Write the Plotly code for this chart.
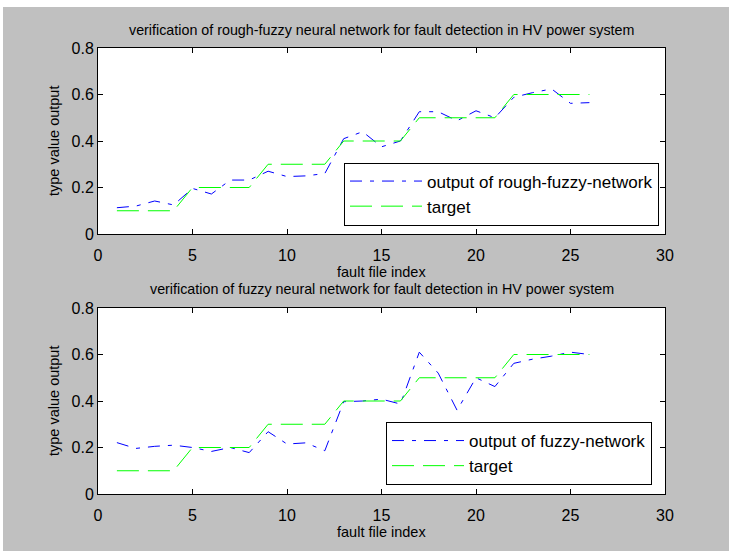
import plotly.graph_objects as go

# ---------------- data ----------------
file_index = list(range(1, 27))
target = [0.1, 0.1, 0.1, 0.1, 0.2, 0.2, 0.2, 0.2, 0.3, 0.3, 0.3, 0.3,
          0.4, 0.4, 0.4, 0.4, 0.5, 0.5, 0.5, 0.5, 0.5, 0.6, 0.6, 0.6, 0.6, 0.6]
rough_fuzzy_output = [0.113, 0.12, 0.142, 0.125, 0.196, 0.172, 0.232, 0.232, 0.27, 0.247,
                      0.25, 0.26, 0.41, 0.44, 0.375, 0.40, 0.526, 0.526, 0.487, 0.53,
                      0.5, 0.588, 0.608, 0.624, 0.562, 0.565]
fuzzy_output = [0.221, 0.196, 0.205, 0.21, 0.2, 0.183, 0.2, 0.178, 0.268, 0.215,
                0.22, 0.186, 0.397, 0.4, 0.408, 0.387, 0.61, 0.52, 0.36, 0.5,
                0.462, 0.562, 0.58, 0.593, 0.61, 0.6]
x_ticks = [0, 5, 10, 15, 20, 25, 30]
y_ticks = [0, 0.2, 0.4, 0.6, 0.8]
y_tick_text = ["0", "0.2", "0.4", "0.6", "0.8"]
titles = ["verification of rough-fuzzy neural network for fault detection in HV power system",
          "verification of fuzzy neural network for fault detection in HV power system"]
series_names = [["output of rough-fuzzy-network", "target"],
                ["output of fuzzy-network", "target"]]
x_label = "fault file index"
y_label = "type value output"

# ---------------- layout helpers ----------------
W, H = 729, 551
FONT = "Liberation Sans, Arial, sans-serif"


def fx(px):
    return px / W


def fy(py):
    return 1 - py / H


BLUE_DASH = "12px,8px,4px,8px"
GREEN_DASH = "22px,9px"

fig = go.Figure()
outputs = [rough_fuzzy_output, fuzzy_output]
for i in range(2):
    xa = "x" if i == 0 else "x2"
    ya = "y" if i == 0 else "y2"
    lg = "legend" if i == 0 else "legend2"
    fig.add_trace(go.Scatter(x=file_index, y=outputs[i], mode="lines",
                             name=series_names[i][0], xaxis=xa, yaxis=ya, legend=lg,
                             line=dict(color="#0000ff", width=1, dash=BLUE_DASH)))
    fig.add_trace(go.Scatter(x=file_index, y=target, mode="lines",
                             name=series_names[i][1], xaxis=xa, yaxis=ya, legend=lg,
                             line=dict(color="#00ff00", width=1, dash=GREEN_DASH)))

axis_common = dict(showline=True, linecolor="black", linewidth=1, mirror="ticks",
                   ticks="inside", ticklen=5, tickcolor="black", showgrid=False,
                   zeroline=False, fixedrange=True, automargin=False,
                   tickfont=dict(family=FONT, size=16, color="black"))

x_dom = [fx(98), fx(665)]
top_dom = [fy(234), fy(48)]
bot_dom = [fy(494), fy(308)]

legend_common = dict(xanchor="right", yanchor="middle", bgcolor="white",
                     bordercolor="black", borderwidth=1, itemwidth=72,
                     tracegroupgap=0,
                     font=dict(family=FONT, size=17, color="black"))

fig.update_layout(
    width=W, height=H, autosize=False,
    margin=dict(l=0, r=0, t=0, b=0, pad=0, autoexpand=False),
    paper_bgcolor="#c0c0c0", plot_bgcolor="white",
    xaxis=dict(domain=x_dom, range=[0, 30], tickvals=x_ticks, anchor="y",
               ticklabelstandoff=7, **axis_common),
    yaxis=dict(domain=top_dom, range=[0, 0.8], tickvals=y_ticks, ticktext=y_tick_text,
               anchor="x", **axis_common),
    xaxis2=dict(domain=x_dom, range=[0, 30], tickvals=x_ticks, anchor="y2",
                ticklabelstandoff=7, **axis_common),
    yaxis2=dict(domain=bot_dom, range=[0, 0.8], tickvals=y_ticks, ticktext=y_tick_text,
                anchor="x2", **axis_common),
    legend=dict(x=fx(659), y=fy(194), **legend_common),
    legend2=dict(x=fx(652), y=fy(453.5), **legend_common),
    showlegend=True,
)

cx = (98 + 665) / 2
ann = []
for i, (ty, xly, yly) in enumerate([(30, 272, 141), (289, 532, 401)]):
    ann.append(dict(text=titles[i], x=fx(cx), y=fy(ty), xref="paper", yref="paper",
                    showarrow=False, xanchor="center", yanchor="middle",
                    font=dict(family=FONT, size=14.3, color="black")))
    ann.append(dict(text=x_label, x=fx(cx), y=fy(xly), xref="paper", yref="paper",
                    showarrow=False, xanchor="center", yanchor="middle",
                    font=dict(family=FONT, size=14.5, color="black")))
    ann.append(dict(text=y_label, x=fx(54), y=fy(yly), xref="paper", yref="paper",
                    showarrow=False, xanchor="center", yanchor="middle", textangle=-90,
                    font=dict(family=FONT, size=14.5, color="black")))
fig.update_layout(annotations=ann)

# white border strips (top and left) around the grey figure area
fig.update_layout(shapes=[
    dict(type="rect", xref="paper", yref="paper", x0=-0.05, x1=1.05, y0=fy(7), y1=1.05,
         fillcolor="white", line=dict(width=0), layer="above"),
    dict(type="rect", xref="paper", yref="paper", x0=-0.05, x1=fx(3), y0=-0.05, y1=1.05,
         fillcolor="white", line=dict(width=0), layer="above"),
])

fig.write_html("out.html")
